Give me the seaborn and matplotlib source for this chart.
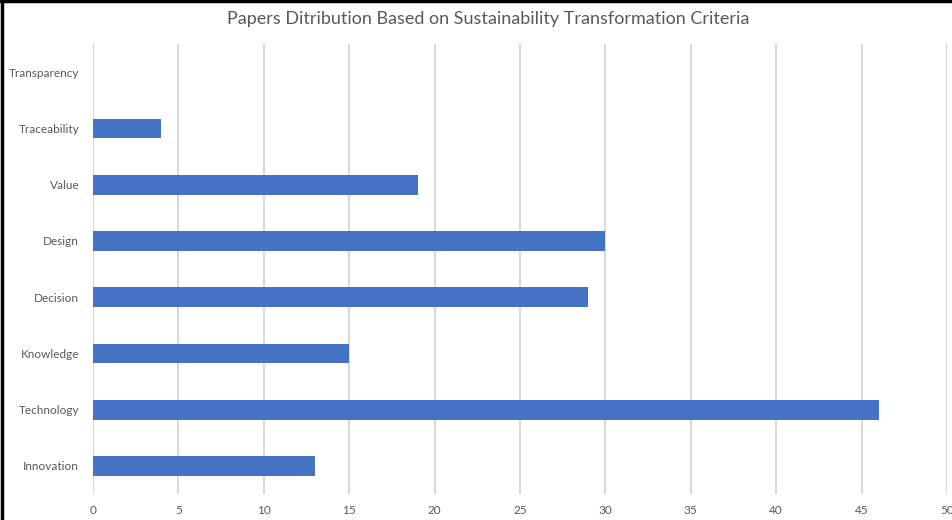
import matplotlib
matplotlib.use("Agg")
import matplotlib.pyplot as plt
import matplotlib.lines as mlines
import seaborn as sns
import pandas as pd

# Criteria (top to bottom) and number of papers for each
criteria = ["Transparency", "Traceability", "Value", "Design",
            "Decision", "Knowledge", "Technology", "Innovation"]
papers = [0, 4, 19, 30, 29, 15, 46, 13]
x_ticks = [0, 5, 10, 15, 20, 25, 30, 35, 40, 45, 50]

df = pd.DataFrame({"Criteria": criteria, "Papers": papers})

sns.set_theme(style="white")
plt.rcParams["font.family"] = ["Lato", "DejaVu Sans"]

text_gray = "#595959"
fig = plt.figure(figsize=(9.53, 5.20), dpi=100)
ax = fig.add_axes([0.0976, 0.05, 0.8961, 0.865])

sns.barplot(data=df, x="Papers", y="Criteria", orient="h", color="#4472C4",
            saturation=1, width=0.35, linewidth=0, ax=ax, zorder=3)

ax.set_xlim(0, 50)
ax.set_xticks(x_ticks)
ax.set_xticklabels([str(t) for t in x_ticks])
ax.xaxis.grid(True, color="#D9D9D9", linewidth=1.5, zorder=0)
ax.yaxis.grid(False)
ax.set_axisbelow(True)
for s in ax.spines.values():
    s.set_visible(False)
ax.tick_params(axis="both", length=0, labelsize=8.5, colors=text_gray)
ax.tick_params(axis="x", pad=8)
ax.tick_params(axis="y", pad=10)
ax.set_xlabel("")
ax.set_ylabel("")

fig.suptitle("Papers Ditribution Based on Sustainability Transformation Criteria",
             x=0.512, y=0.978, fontsize=13, color=text_gray)

# Chart frame along the left and top edges
fig.add_artist(mlines.Line2D([0.002, 0.002], [0, 1], color="black",
                             linewidth=2.5, transform=fig.transFigure))
fig.add_artist(mlines.Line2D([0, 1], [0.998, 0.998], color="black",
                             linewidth=2.5, transform=fig.transFigure))

fig.savefig("out.png", dpi=100)
